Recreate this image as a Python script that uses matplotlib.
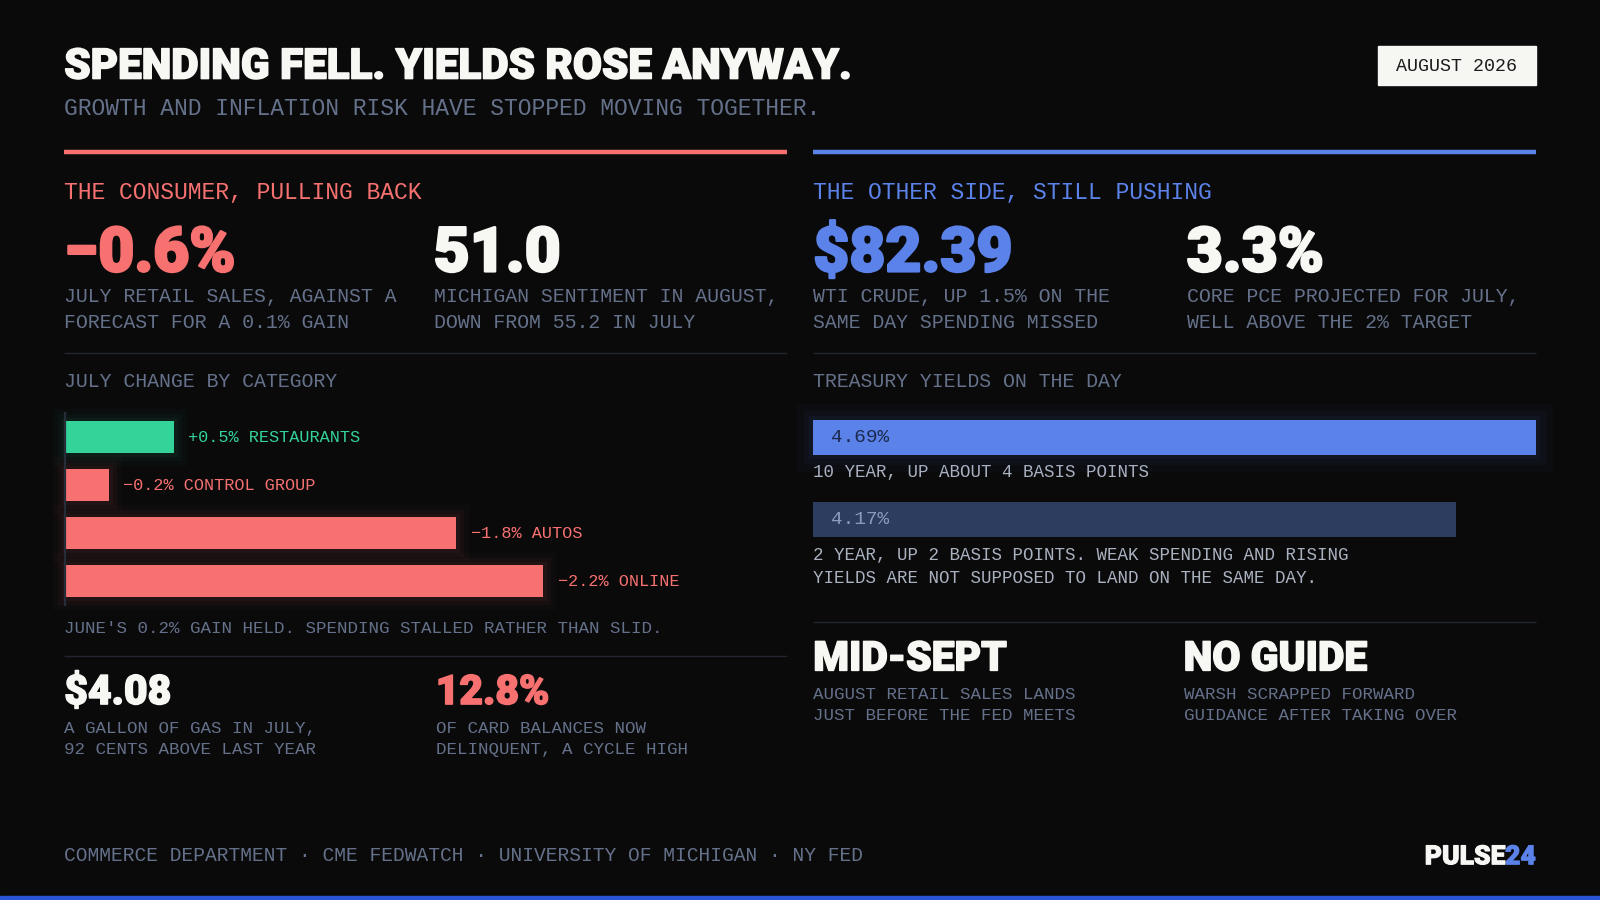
import matplotlib
matplotlib.use("Agg")
import matplotlib.pyplot as plt
from matplotlib import font_manager
import matplotlib.patheffects as pe

# layout grid in reference pixels (y grows downward)
W, H = 1568, 882

# ---- data ----
title = "SPENDING FELL. YIELDS ROSE ANYWAY."
subtitle = "GROWTH AND INFLATION RISK HAVE STOPPED MOVING TOGETHER."
date_tag = "AUGUST 2026"

left_header = "THE CONSUMER, PULLING BACK"
left_kpis = ["\u22120.6%", "51.0"]
left_kpi_notes = [["JULY RETAIL SALES, AGAINST A", "FORECAST FOR A 0.1% GAIN"],
                  ["MICHIGAN SENTIMENT IN AUGUST,", "DOWN FROM 55.2 IN JULY"]]

right_header = "THE OTHER SIDE, STILL PUSHING"
right_kpis = ["$82.39", "3.3%"]
right_kpi_notes = [["WTI CRUDE, UP 1.5% ON THE", "SAME DAY SPENDING MISSED"],
                   ["CORE PCE PROJECTED FOR JULY,", "WELL ABOVE THE 2% TARGET"]]

cat_title = "JULY CHANGE BY CATEGORY"
categories = ["RESTAURANTS", "CONTROL GROUP", "AUTOS", "ONLINE"]
cat_change = [0.5, -0.2, -1.8, -2.2]
cat_note = "JUNE'S 0.2% GAIN HELD. SPENDING STALLED RATHER THAN SLID."

yield_title = "TREASURY YIELDS ON THE DAY"
yield_values = [4.69, 4.17]
yield_notes = [["10 YEAR, UP ABOUT 4 BASIS POINTS"],
               ["2 YEAR, UP 2 BASIS POINTS. WEAK SPENDING AND RISING",
                "YIELDS ARE NOT SUPPOSED TO LAND ON THE SAME DAY."]]

bottom_left_kpis = ["$4.08", "12.8%"]
bottom_left_notes = [["A GALLON OF GAS IN JULY,", "92 CENTS ABOVE LAST YEAR"],
                     ["OF CARD BALANCES NOW", "DELINQUENT, A CYCLE HIGH"]]
bottom_right_kpis = ["MID-SEPT", "NO GUIDE"]
bottom_right_notes = [["AUGUST RETAIL SALES LANDS", "JUST BEFORE THE FED MEETS"],
                      ["WARSH SCRAPPED FORWARD", "GUIDANCE AFTER TAKING OVER"]]

sources = "COMMERCE DEPARTMENT \u00b7 CME FEDWATCH \u00b7 UNIVERSITY OF MICHIGAN \u00b7 NY FED"

# ---- style ----
BG = "#0a0a0b"
WHITE = "#f7f7f4"
RED = "#f87171"
BLUE = "#5b82e9"
GREEN = "#34d399"
MUTED = "#65718a"
LIGHT = "#aab1bf"
RULE = "#23262e"
NAVY = "#2c3d5f"

fonts = font_manager.fontManager.ttflist
installed = {f.name for f in fonts}


def weight_num(w):
    if isinstance(w, (int, float)):
        return w
    return font_manager.weight_dict.get(str(w).lower(), 400)


def pick(names):
    return [n for n in names if n in installed] + ["DejaVu Sans"]


def heavy_family():
    # prefer a family that really ships a black/extra-bold cut
    for fam in ["Roboto", "Inter", "Lato", "Open Sans", "Noto Sans"]:
        if any(f.name == fam and weight_num(f.weight) >= 800 for f in fonts):
            return [fam, "DejaVu Sans"], 0.6
    return pick(["Roboto"]), 1.0


HEAVY, FATTEN = heavy_family()
MONO = pick(["Liberation Mono", "DejaVu Sans Mono"])

PT = 0.72 * 1600 / W  # reference px -> points

fig = plt.figure(figsize=(16, 9), dpi=100, facecolor=BG)
bg = fig.add_axes([0, 0, 1, 1])
bg.set_xlim(0, W)
bg.set_ylim(H, 0)
bg.axis("off")
bg.set_facecolor(BG)


def txt(x, y, s, size, color, family=MONO, weight="normal", ha="left", **kw):
    return bg.text(x, y, s, fontsize=size * PT, color=color, family=family,
                   fontweight=weight, ha=ha, va="baseline", parse_math=False, **kw)


def big(x, y, s, size, color, ha="left"):
    # heavy display type, thickened a little with a same-colour stroke
    stroke = [pe.withStroke(linewidth=FATTEN * size / 22, foreground=color)]
    return txt(x, y, s, size, color, family=HEAVY, weight=900, ha=ha,
               path_effects=stroke)


def rule(x0, x1, y, color, lw):
    bg.plot([x0, x1], [y, y], color=color, lw=lw, solid_capstyle="butt")


def px_axes(x0, y0, x1, y1):
    a = fig.add_axes([x0 / W, 1 - y1 / H, (x1 - x0) / W, (y1 - y0) / H])
    a.patch.set_alpha(0)
    a.set_xticks([])
    a.set_yticks([])
    for s in a.spines.values():
        s.set_visible(False)
    return a


# header
big(63, 77, title, 41.3, WHITE)
txt(63, 113, subtitle, 22.5, MUTED)
bg.add_patch(plt.Rectangle((1350, 45), 155, 38, color="#f6f6f3"))
txt(1427.5, 70, date_tag, 18, "#1b1b1b", ha="center")

# column rules
rule(63, 771, 149, RED, 3.2)
rule(797, 1505, 149, BLUE, 3.2)

# section headers and KPI rows
txt(63, 195, left_header, 22.5, RED)
txt(797, 195, right_header, 22.5, BLUE)

kpi_x = [63, 425, 797, 1163]
kpi_vals = left_kpis + right_kpis
kpi_cols = [RED, WHITE, BLUE, WHITE]
kpi_notes = left_kpi_notes + right_kpi_notes
for x, v, c, notes in zip(kpi_x, kpi_vals, kpi_cols, kpi_notes):
    big(x, 266, v, 61, c)
    for i, line in enumerate(notes):
        txt(x, 296 + 25 * i, line, 19.5, MUTED)

rule(63, 771, 346, RULE, 1)
rule(797, 1505, 346, RULE, 1)

# category bars
txt(63, 379, cat_title, 19.5, MUTED)
ax = px_axes(64, 405, 771, 593)
ypos = list(range(len(categories)))
cols = [GREEN if v > 0 else RED for v in cat_change]
widths = [abs(v) for v in cat_change]
for lw, al in [(18, 0.025), (11, 0.035), (5, 0.05)]:
    ax.barh(ypos, widths, height=0.66, left=0, color="none", edgecolor=cols,
            linewidth=lw, alpha=al, clip_on=False)
ax.barh(ypos, widths, height=0.66, left=0, color=cols, linewidth=0)
ax.set_xlim(0, 3.32)
ax.set_ylim(len(categories) - 0.5, -0.5)
ax.spines["left"].set_visible(True)
ax.spines["left"].set_color("#262c38")
ax.spines["left"].set_linewidth(1.6)
for yv, w, v, name, c in zip(ypos, widths, cat_change, categories, cols):
    lab = f"{v:+.1f}% {name}".replace("-", "\u2212")
    ax.annotate(lab, xy=(w, yv), xytext=(14 * PT, 0), textcoords="offset points",
                ha="left", va="center", color=c, fontsize=16.5 * PT, family=MONO,
                annotation_clip=False)
txt(63, 620, cat_note, 17.1, MUTED)

rule(63, 771, 643, RULE, 1)

# bottom-left KPIs
for x, v, c, notes in zip([63, 427], bottom_left_kpis, [WHITE, RED], bottom_left_notes):
    big(x, 690, v, 40, c)
    for i, line in enumerate(notes):
        txt(x, 718 + 21 * i, line, 17.1, MUTED)

# treasury yields
txt(797, 379, yield_title, 19.5, MUTED)
ay = px_axes(797, 389, 1505, 549)
ypos2 = list(range(len(yield_values)))
ycols = [BLUE, NAVY]
for lw, al in [(24, 0.03), (14, 0.04), (6, 0.05)]:
    ay.barh(ypos2[:1], yield_values[:1], height=0.425, color="none", edgecolor=BLUE,
            linewidth=lw, alpha=al, clip_on=False)
ay.barh(ypos2, yield_values, height=0.425, color=ycols, linewidth=0)
ay.set_xlim(0, max(yield_values))
ay.set_ylim(len(yield_values) - 0.5, -0.5)
for yv, v, tc in zip(ypos2, yield_values, ["#1b2a4d", "#8a9bbf"]):
    ay.annotate(f"{v:.2f}%", xy=(0, yv), xytext=(17 * PT, 0), textcoords="offset points",
                ha="left", va="center", color=tc, fontsize=19 * PT, family=MONO)
for base, notes in zip([467, 549], yield_notes):
    for i, line in enumerate(notes):
        txt(797, base + 22 * i, line, 17.2, LIGHT)

rule(797, 1505, 610, RULE, 1)

# bottom-right KPIs
for x, v, notes in zip([797, 1160], bottom_right_kpis, bottom_right_notes):
    big(x, 657, v, 40, WHITE)
    for i, line in enumerate(notes):
        txt(x, 685 + 21 * i, line, 17.1, MUTED)

# footer
txt(63, 844, sources, 19.3, MUTED)
t24 = big(1505, 847, "24", 26, BLUE, ha="right")
bg.annotate("PULSE", xy=(0, 0), xycoords=t24, ha="right", va="bottom",
            fontsize=26 * PT, color=WHITE, family=HEAVY, fontweight=900,
            path_effects=[pe.withStroke(linewidth=FATTEN * 26 / 22, foreground=WHITE)])
bg.add_patch(plt.Rectangle((0, 878), W, 4, color="#2a56d6", clip_on=False))

fig.savefig("out.png", dpi=100, facecolor=BG)
